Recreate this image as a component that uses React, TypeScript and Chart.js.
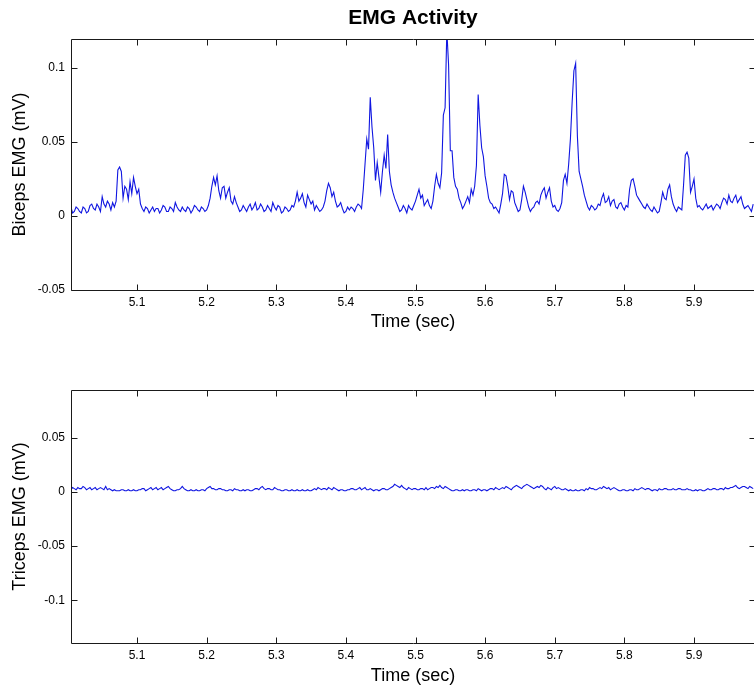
import React, { useEffect, useRef } from "react";
import { Chart, registerables } from "chart.js";

Chart.register(...registerables);

// ---- data ----
const SAMPLE_START = 5.005; // sec, time of the first sample
const SAMPLE_STEP = 0.005; // sec between main samples (half-step samples sit between)
const X_MIN = 5.0052;
const X_MAX = 5.9876;
const X_TICKS = [5.1, 5.2, 5.3, 5.4, 5.5, 5.6, 5.7, 5.8, 5.9];

const BICEPS_Y_MIN = -0.05;
const BICEPS_Y_MAX = 0.1194;
const BICEPS_Y_TICKS = [-0.05, 0, 0.05, 0.1];

const TRICEPS_Y_MIN = -0.1394;
const TRICEPS_Y_MAX = 0.094;
const TRICEPS_Y_TICKS = [-0.1, -0.05, 0, 0.05];

// biceps EMG (mV) at SAMPLE_START + i * SAMPLE_STEP
const BICEPS_EMG = [
  0.006, 0.003, 0.005, 0.002, 0.005, 0.003, 0.008, 0.004, 0.006, 0.013,
  0.006, 0.008, 0.009, 0.010, 0.033, 0.012, 0.018, 0.023, 0.026, 0.015,
  0.008, 0.003, 0.005, 0.004, 0.003, 0.005, 0.004, 0.006, 0.003, 0.005,
  0.009, 0.004, 0.006, 0.003, 0.005, 0.004, 0.006, 0.003, 0.005, 0.004,
  0.012, 0.026, 0.027, 0.012, 0.020, 0.016, 0.010, 0.013, 0.006, 0.004,
  0.005, 0.006, 0.004, 0.009, 0.005, 0.006, 0.004, 0.005, 0.009, 0.004,
  0.006, 0.003, 0.005, 0.004, 0.006, 0.016, 0.012, 0.009, 0.014, 0.008,
  0.004, 0.005, 0.004, 0.010, 0.022, 0.013, 0.010, 0.007, 0.005, 0.003,
  0.004, 0.005, 0.006, 0.007, 0.018, 0.052, 0.080, 0.046, 0.036, 0.016,
  0.041, 0.055, 0.021, 0.012, 0.006, 0.004, 0.005, 0.007, 0.004, 0.010,
  0.018, 0.014, 0.009, 0.007, 0.010, 0.028, 0.019, 0.068, 0.125, 0.044,
  0.026, 0.018, 0.009, 0.007, 0.013, 0.018, 0.020, 0.082, 0.046, 0.027,
  0.012, 0.008, 0.006, 0.002, 0.015, 0.027, 0.011, 0.016, 0.006, 0.004,
  0.020, 0.011, 0.003, 0.006, 0.010, 0.014, 0.019, 0.016, 0.010, 0.007,
  0.003, 0.009, 0.028, 0.035, 0.077, 0.103, 0.030, 0.020, 0.010, 0.004,
  0.006, 0.005, 0.007, 0.015, 0.010, 0.007, 0.011, 0.005, 0.009, 0.004,
  0.006, 0.024, 0.020, 0.012, 0.008, 0.005, 0.006, 0.003, 0.004, 0.003,
  0.016, 0.011, 0.021, 0.008, 0.003, 0.005, 0.021, 0.043, 0.016, 0.025,
  0.006, 0.005, 0.006, 0.005, 0.007, 0.006, 0.007, 0.009, 0.011, 0.014,
  0.009, 0.014, 0.011, 0.008, 0.006, 0.005, 0.008,
];

// biceps EMG (mV) at the half-step times between consecutive main samples
const BICEPS_EMG_MID = [
  0.002, 0.006, 0.003, 0.006, 0.002, 0.007, 0.005, 0.008, 0.003, 0.008,
  0.010, 0.004, 0.006, 0.031, 0.030, 0.020, 0.011, 0.015, 0.020, 0.018,
  0.005, 0.006, 0.002, 0.006, 0.005, 0.002, 0.007, 0.003, 0.006, 0.003,
  0.006, 0.003, 0.004, 0.006, 0.002, 0.007, 0.004, 0.006, 0.003, 0.007,
  0.020, 0.021, 0.017, 0.019, 0.012, 0.019, 0.008, 0.009, 0.003, 0.007,
  0.003, 0.008, 0.006, 0.004, 0.008, 0.003, 0.007, 0.003, 0.006, 0.007,
  0.002, 0.006, 0.003, 0.007, 0.010, 0.010, 0.015, 0.006, 0.011, 0.010,
  0.007, 0.003, 0.006, 0.017, 0.019, 0.016, 0.006, 0.009, 0.002, 0.006,
  0.006, 0.003, 0.008, 0.005, 0.035, 0.045, 0.060, 0.024, 0.026, 0.030,
  0.032, 0.030, 0.016, 0.009, 0.003, 0.007, 0.002, 0.005, 0.007, 0.014,
  0.012, 0.007, 0.011, 0.005, 0.020, 0.022, 0.029, 0.073, 0.102, 0.044,
  0.020, 0.012, 0.005, 0.010, 0.009, 0.014, 0.034, 0.061, 0.040, 0.020,
  0.009, 0.005, 0.004, 0.008, 0.028, 0.020, 0.017, 0.009, 0.003, 0.011,
  0.016, 0.006, 0.005, 0.009, 0.008, 0.017, 0.012, 0.019, 0.006, 0.004,
  0.005, 0.024, 0.022, 0.052, 0.098, 0.054, 0.025, 0.014, 0.006, 0.007,
  0.004, 0.008, 0.012, 0.009, 0.013, 0.010, 0.006, 0.008, 0.006, 0.007,
  0.018, 0.025, 0.014, 0.010, 0.006, 0.008, 0.004, 0.006, 0.002, 0.009,
  0.012, 0.018, 0.013, 0.005, 0.006, 0.004, 0.041, 0.039, 0.020, 0.012,
  0.007, 0.004, 0.008, 0.006, 0.004, 0.008, 0.005, 0.012, 0.008, 0.010,
  0.012, 0.009, 0.013, 0.005, 0.007, 0.003,
];

// triceps EMG (mV) at SAMPLE_START + i * SAMPLE_STEP
const TRICEPS_EMG = [
  0.002, 0.003, 0.004, 0.003, 0.004, 0.003, 0.002, 0.004, 0.003, 0.003,
  0.005, 0.003, 0.001, 0.001, 0.001, 0.002, 0.001, 0.001, 0.002, 0.001,
  0.002, 0.003, 0.002, 0.004, 0.003, 0.002, 0.004, 0.003, 0.005, 0.002,
  0.001, 0.002, 0.005, 0.002, 0.001, 0.001, 0.002, 0.001, 0.002, 0.003,
  0.005, 0.003, 0.002, 0.003, 0.002, 0.001, 0.002, 0.003, 0.002, 0.001,
  0.001, 0.002, 0.001, 0.003, 0.002, 0.005, 0.002, 0.003, 0.002, 0.003,
  0.002, 0.001, 0.002, 0.001, 0.001, 0.002, 0.001, 0.001, 0.002, 0.001,
  0.003, 0.004, 0.002, 0.003, 0.004, 0.002, 0.003, 0.001, 0.002, 0.001,
  0.002, 0.003, 0.002, 0.004, 0.003, 0.002, 0.003, 0.001, 0.002, 0.002,
  0.003, 0.002, 0.004, 0.007, 0.005, 0.006, 0.003, 0.004, 0.002, 0.003,
  0.002, 0.003, 0.004, 0.003, 0.004, 0.005, 0.006, 0.003, 0.004, 0.002,
  0.001, 0.002, 0.001, 0.001, 0.002, 0.001, 0.002, 0.003, 0.001, 0.002,
  0.002, 0.003, 0.004, 0.002, 0.004, 0.005, 0.003, 0.004, 0.006, 0.004,
  0.005, 0.007, 0.005, 0.003, 0.005, 0.006, 0.003, 0.004, 0.002, 0.005,
  0.004, 0.002, 0.003, 0.001, 0.001, 0.002, 0.001, 0.002, 0.003, 0.004,
  0.003, 0.002, 0.004, 0.005, 0.003, 0.002, 0.004, 0.002, 0.001, 0.002,
  0.001, 0.002, 0.003, 0.002, 0.004, 0.002, 0.003, 0.001, 0.002, 0.003,
  0.002, 0.003, 0.002, 0.003, 0.002, 0.003, 0.002, 0.003, 0.002, 0.001,
  0.001, 0.002, 0.001, 0.003, 0.002, 0.003, 0.002, 0.003, 0.004, 0.003,
  0.004, 0.006, 0.003, 0.005, 0.004, 0.005, 0.003,
];

// triceps EMG (mV) at the half-step times
const TRICEPS_EMG_MID = [
  0.004, 0.002, 0.003, 0.005, 0.002, 0.004, 0.003, 0.002, 0.004, 0.002,
  0.002, 0.002, 0.002, 0.001, 0.002, 0.001, 0.002, 0.001, 0.001, 0.002,
  0.003, 0.001, 0.003, 0.002, 0.004, 0.003, 0.002, 0.004, 0.003, 0.001,
  0.002, 0.003, 0.003, 0.001, 0.002, 0.001, 0.001, 0.002, 0.001, 0.004,
  0.003, 0.002, 0.003, 0.002, 0.001, 0.002, 0.001, 0.002, 0.001, 0.002,
  0.002, 0.001, 0.002, 0.003, 0.004, 0.003, 0.003, 0.002, 0.004, 0.002,
  0.001, 0.002, 0.001, 0.002, 0.001, 0.001, 0.002, 0.001, 0.001, 0.002,
  0.002, 0.003, 0.003, 0.002, 0.003, 0.004, 0.002, 0.002, 0.001, 0.002,
  0.003, 0.002, 0.003, 0.002, 0.004, 0.002, 0.002, 0.002, 0.001, 0.003,
  0.002, 0.003, 0.005, 0.006, 0.004, 0.004, 0.002, 0.003, 0.003, 0.002,
  0.003, 0.002, 0.002, 0.004, 0.003, 0.004, 0.004, 0.005, 0.003, 0.001,
  0.002, 0.001, 0.002, 0.002, 0.001, 0.002, 0.001, 0.002, 0.002, 0.001,
  0.003, 0.002, 0.003, 0.003, 0.003, 0.004, 0.002, 0.005, 0.005, 0.003,
  0.006, 0.006, 0.004, 0.004, 0.004, 0.005, 0.002, 0.003, 0.004, 0.003,
  0.003, 0.002, 0.002, 0.002, 0.001, 0.001, 0.002, 0.001, 0.002, 0.003,
  0.002, 0.003, 0.003, 0.004, 0.004, 0.003, 0.003, 0.001, 0.002, 0.001,
  0.002, 0.001, 0.002, 0.003, 0.003, 0.003, 0.002, 0.002, 0.001, 0.002,
  0.003, 0.002, 0.002, 0.002, 0.003, 0.002, 0.002, 0.002, 0.001, 0.002,
  0.002, 0.001, 0.002, 0.002, 0.003, 0.002, 0.003, 0.002, 0.003, 0.004,
  0.005, 0.004, 0.004, 0.005, 0.003, 0.004,
];

const FONT = "'Liberation Sans', Arial, Helvetica, sans-serif";
const LINE_COLOR = "rgb(16, 22, 225)";
const CANVAS_W = 780;

function buildPoints(main: number[], mid: number[]) {
  const pts: { x: number; y: number }[] = [];
  main.forEach((v, i) => {
    const t = SAMPLE_START + i * SAMPLE_STEP;
    pts.push({ x: t, y: v });
    if (i < mid.length) pts.push({ x: t + SAMPLE_STEP / 2, y: mid[i] });
  });
  return pts;
}

const framePlugin = {
  id: "matlabFrame",
  afterDraw(chart: any) {
    const { ctx, chartArea } = chart;
    const { left, right, top, bottom } = chartArea;
    const xs = chart.scales.x;
    const ys = chart.scales.y;
    const tl = 6;
    ctx.save();
    ctx.strokeStyle = "#1a1a1a";
    ctx.lineWidth = 1;
    ctx.beginPath();
    const L = Math.round(left) + 0.5;
    const R = Math.round(right) + 0.5;
    const T = Math.round(top) + 0.5;
    const B = Math.round(bottom) + 0.5;
    ctx.rect(L, T, R - L, B - T);
    xs.ticks.forEach((t: any) => {
      const px = Math.round(xs.getPixelForValue(t.value)) + 0.5;
      ctx.moveTo(px, B);
      ctx.lineTo(px, B - tl);
      ctx.moveTo(px, T);
      ctx.lineTo(px, T + tl);
    });
    ys.ticks.forEach((t: any) => {
      const py = Math.round(ys.getPixelForValue(t.value)) + 0.5;
      ctx.moveTo(L, py);
      ctx.lineTo(L + tl, py);
      ctx.moveTo(R, py);
      ctx.lineTo(R - tl, py);
    });
    ctx.stroke();
    ctx.restore();
  },
};

type PanelProps = {
  values: number[];
  mids: number[];
  yMin: number;
  yMax: number;
  yTicks: number[];
  yLabel: string;
  title?: string;
  top: number;
  height: number;
  padTop: number;
  xAxisHeight: number;
  xTitlePad: number;
};

function EmgPanel(p: PanelProps) {
  const ref = useRef<HTMLCanvasElement | null>(null);
  useEffect(() => {
    if (!ref.current) return;
    const chart = new Chart(ref.current, {
      type: "line",
      data: {
        datasets: [
          {
            data: buildPoints(p.values, p.mids),
            borderColor: LINE_COLOR,
            borderWidth: 1.1,
            pointRadius: 0,
            tension: 0,
            fill: false,
          },
        ],
      },
      plugins: [framePlugin],
      options: {
        responsive: false,
        animation: false,
        devicePixelRatio: 1,
        layout: { padding: { top: p.title ? 0 : p.padTop, right: CANVAS_W - 755, bottom: 0, left: 0 } },
        plugins: {
          legend: { display: false },
          tooltip: { enabled: false },
          title: p.title
            ? {
                display: true,
                text: p.title,
                color: "#000",
                fullSize: false,
                font: { family: FONT, size: 21, weight: "bold", lineHeight: 1 },
                padding: { top: 7.5, bottom: 10.5 },
              }
            : { display: false },
        },
        scales: {
          x: {
            type: "linear",
            min: X_MIN,
            max: X_MAX,
            afterBuildTicks: (s: any) => {
              s.ticks = X_TICKS.map((value) => ({ value }));
            },
            afterFit: (s: any) => {
              s.height = p.xAxisHeight;
            },
            grid: { display: false, drawTicks: false },
            border: { display: false },
            ticks: {
              color: "#000",
              padding: 5,
              maxRotation: 0,
              autoSkip: false,
              font: { family: FONT, size: 12 },
              callback: (v: any) => Number(v).toFixed(1),
            },
            title: {
              display: true,
              text: "Time (sec)",
              color: "#000",
              font: { family: FONT, size: 18, lineHeight: 1 },
              padding: { top: 0, bottom: p.xTitlePad },
            },
          },
          y: {
            type: "linear",
            min: p.yMin,
            max: p.yMax,
            afterBuildTicks: (s: any) => {
              s.ticks = p.yTicks.map((value) => ({ value }));
            },
            afterFit: (s: any) => {
              s.width = 71;
            },
            grid: { display: false, drawTicks: false },
            border: { display: false },
            ticks: {
              color: "#000",
              padding: 6,
              autoSkip: false,
              font: { family: FONT, size: 12 },
              callback: (v: any) => {
                const n = Number(v);
                if (Math.abs(n) < 1e-9) return "0";
                return String(parseFloat(n.toFixed(3)));
              },
            },
            title: {
              display: true,
              text: p.yLabel,
              color: "#000",
              font: { family: FONT, size: 18, lineHeight: 1 },
              padding: { top: 11, bottom: 0 },
            },
          },
        },
      } as any,
    });
    return () => chart.destroy();
  }, []);
  return (
    <div style={{ position: "absolute", left: 0, top: p.top, width: CANVAS_W, height: p.height }}>
      <canvas ref={ref} width={CANVAS_W} height={p.height} style={{ display: "block" }} />
    </div>
  );
}

export default function App() {
  return (
    <div
      style={{
        position: "absolute",
        left: 0,
        top: 0,
        width: 754,
        height: 689,
        overflow: "hidden",
        background: "#fff",
      }}
    >
      <EmgPanel
        values={BICEPS_EMG}
        mids={BICEPS_EMG_MID}
        yMin={BICEPS_Y_MIN}
        yMax={BICEPS_Y_MAX}
        yTicks={BICEPS_Y_TICKS}
        yLabel="Biceps EMG (mV)"
        title="EMG Activity"
        top={0}
        height={340}
        padTop={0}
        xAxisHeight={50}
        xTitlePad={9}
      />
      <EmgPanel
        values={TRICEPS_EMG}
        mids={TRICEPS_EMG_MID}
        yMin={TRICEPS_Y_MIN}
        yMax={TRICEPS_Y_MAX}
        yTicks={TRICEPS_Y_TICKS}
        yLabel="Triceps EMG (mV)"
        top={340}
        height={349}
        padTop={50}
        xAxisHeight={46}
        xTitlePad={4}
      />
    </div>
  );
}
